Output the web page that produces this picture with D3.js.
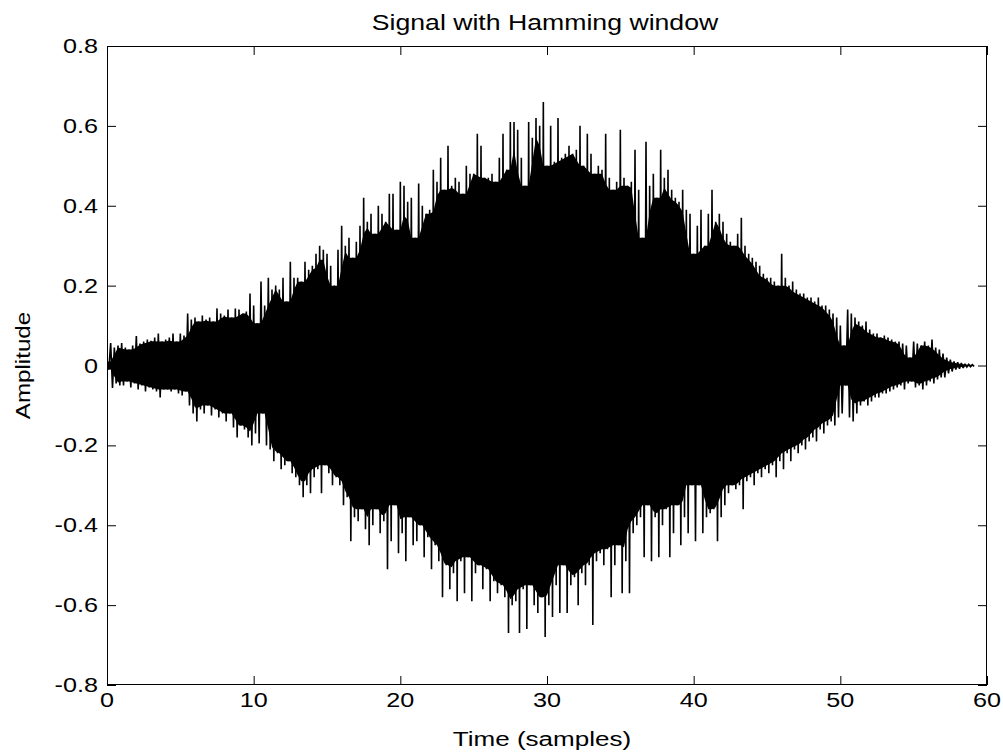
<!DOCTYPE html>
<html>
<head>
<meta charset="utf-8">
<script src="https://cdn.jsdelivr.net/npm/d3@7/dist/d3.min.js"></script>
<style>
  html, body { margin: 0; padding: 0; background: #fff; }
  svg { display: block; }
  text { font-family: "Liberation Sans", Arial, sans-serif; fill: #000; }
</style>
</head>
<body>
<svg id="chart" width="1003" height="753"></svg>
<script>
// Windowed signal: positive and negative swing of each short stretch,
// one pair every 0.25 samples from t = 0 to t = 59.
const peakStep = 0.25;
const upperPeaks = [
  0.01, 0.056, 0.045, 0.05,   0.056, 0.045, 0.04, 0.05,   0.074, 0.055, 0.06, 0.065,
  0.062, 0.07, 0.08, 0.06,    0.065, 0.07, 0.08, 0.06,    0.08, 0.075, 0.13, 0.115,
  0.12, 0.11, 0.125, 0.115,   0.12, 0.11, 0.143, 0.13,    0.125, 0.14, 0.12, 0.143,
  0.14, 0.13, 0.135, 0.18,    0.15, 0.106, 0.21, 0.15,    0.22, 0.19, 0.2, 0.19,
  0.22, 0.16, 0.26, 0.22,     0.22, 0.21, 0.26, 0.24,     0.25, 0.28, 0.3, 0.29,
  0.28, 0.25, 0.2, 0.29,      0.35, 0.3, 0.32, 0.27,      0.31, 0.35, 0.42, 0.36,
  0.38, 0.33, 0.4, 0.38,      0.36, 0.43, 0.43, 0.34,     0.46, 0.45, 0.41, 0.42,
  0.32, 0.456, 0.4, 0.38,     0.39, 0.49, 0.46, 0.52,     0.44, 0.55, 0.45, 0.47,
  0.46, 0.43, 0.5, 0.48,      0.48, 0.58, 0.55, 0.47,     0.47, 0.48, 0.46, 0.52,
  0.58, 0.49, 0.61, 0.61,     0.59, 0.52, 0.45, 0.61,     0.57, 0.62, 0.6, 0.66,
  0.5, 0.6, 0.51, 0.62,       0.52, 0.53, 0.55, 0.53,     0.54, 0.6, 0.5, 0.58,
  0.53, 0.48, 0.5, 0.49,      0.58, 0.47, 0.44, 0.46,     0.59, 0.47, 0.45, 0.46,
  0.54, 0.44, 0.32, 0.56,     0.45, 0.48, 0.42, 0.54,     0.47, 0.49, 0.44, 0.42,
  0.41, 0.44, 0.39, 0.38,     0.28, 0.35, 0.39, 0.3,      0.38, 0.44, 0.36, 0.38,
  0.36, 0.33, 0.31, 0.3,      0.33, 0.37, 0.3, 0.28,      0.27, 0.26, 0.25, 0.23,
  0.22, 0.22, 0.21, 0.2,      0.28, 0.22, 0.2, 0.21,      0.19, 0.18, 0.18, 0.17,
  0.17, 0.16, 0.17, 0.15,     0.15, 0.14, 0.13, 0.12,     0.1, 0.05, 0.14, 0.13,
  0.12, 0.11, 0.1, 0.11,      0.09, 0.08, 0.08, 0.07,     0.075, 0.07, 0.065, 0.06,
  0.06, 0.055, 0.05, 0.02,    0.06, 0.055, 0.05, 0.06,    0.05, 0.065, 0.045, 0.04,
  0.03, 0.02, 0.015, 0.01,    0.008, 0.006, 0.004, 0.003, 0.002
];
const lowerPeaks = [
  -0.01, -0.056, -0.045, -0.05,  -0.05, -0.04, -0.055, -0.045,  -0.06, -0.05, -0.065, -0.055,
  -0.06, -0.065, -0.08, -0.06,   -0.06, -0.065, -0.06, -0.07,   -0.075, -0.065, -0.1, -0.12,
  -0.14, -0.11, -0.12, -0.1,     -0.125, -0.11, -0.13, -0.12,   -0.14, -0.12, -0.155, -0.18,
  -0.15, -0.16, -0.18, -0.2,     -0.17, -0.195, -0.12, -0.2,    -0.21, -0.24, -0.22, -0.26,
  -0.25, -0.24, -0.27, -0.28,    -0.3, -0.33, -0.3, -0.32,      -0.28, -0.26, -0.32, -0.25,
  -0.27, -0.3, -0.28, -0.3,      -0.35, -0.33, -0.44, -0.38,    -0.39, -0.36, -0.41, -0.45,
  -0.4, -0.36, -0.42, -0.39,     -0.51, -0.44, -0.35, -0.47,    -0.42, -0.49, -0.38, -0.45,
  -0.44, -0.4, -0.48, -0.43,     -0.51, -0.45, -0.49, -0.58,    -0.5, -0.56, -0.52, -0.59,
  -0.49, -0.57, -0.48, -0.59,    -0.52, -0.5, -0.56, -0.51,     -0.59, -0.54, -0.57, -0.55,
  -0.58, -0.67, -0.6, -0.59,     -0.67, -0.56, -0.66, -0.55,    -0.6, -0.62, -0.58, -0.68,
  -0.6, -0.63, -0.55, -0.62,     -0.5, -0.62, -0.55, -0.53,     -0.6, -0.52, -0.55, -0.5,
  -0.65, -0.49, -0.47, -0.5,     -0.46, -0.58, -0.5, -0.45,     -0.57, -0.49, -0.57, -0.42,
  -0.4, -0.38, -0.48, -0.35,     -0.49, -0.38, -0.48, -0.4,     -0.36, -0.48, -0.42, -0.35,
  -0.45, -0.38, -0.42, -0.3,     -0.44, -0.3, -0.42, -0.38,     -0.37, -0.36, -0.44, -0.38,
  -0.35, -0.32, -0.3, -0.31,     -0.3, -0.36, -0.29, -0.28,     -0.3, -0.27, -0.28, -0.26,
  -0.27, -0.25, -0.28, -0.24,    -0.26, -0.22, -0.24, -0.21,    -0.22, -0.2, -0.21, -0.19,
  -0.18, -0.19, -0.16, -0.17,    -0.15, -0.14, -0.15, -0.13,    -0.12, -0.05, -0.13, -0.14,
  -0.12, -0.1, -0.09, -0.1,      -0.09, -0.08, -0.08, -0.07,    -0.07, -0.065, -0.06, -0.055,
  -0.05, -0.06, -0.045, -0.04,   -0.055, -0.05, -0.06, -0.05,   -0.04, -0.045, -0.035, -0.03,
  -0.03, -0.02, -0.015, -0.01,   -0.008, -0.006, -0.004, -0.003, -0.002
];

const xTicks = [0, 10, 20, 30, 40, 50, 60];
const yTicks = [-0.8, -0.6, -0.4, -0.2, 0, 0.2, 0.4, 0.6, 0.8];
const titleText = "Signal with Hamming window";
const xLabelText = "Time (samples)";
const yLabelText = "Amplitude";

// Layout
const W = 1003, H = 753;
const plot = { left: 107, right: 987, top: 46, bottom: 685 };
const fontSize = 21;
const stretch = 1.2;   // horizontal widening of the lettering
const tickLen = 9;

const svg = d3.select("#chart");
svg.append("rect").attr("width", W).attr("height", H).attr("fill", "#fff");

const x = d3.scaleLinear().domain([0, 60]).range([plot.left, plot.right]);
const y = d3.scaleLinear().domain([-0.8, 0.8]).range([plot.bottom, plot.top]);

// Interleave the positive and negative swings into one sample sequence
const samples = [];
upperPeaks.forEach((v, i) => {
  samples.push({ t: i * peakStep, v: v });
  if (i < lowerPeaks.length) samples.push({ t: i * peakStep + peakStep / 2, v: lowerPeaks[i] });
});

// Dense core of the oscillation, which the trace fills solidly at this scale:
// blend of the smallest swing within one and within two neighbouring stretches
const minIn = (arr, i, r, f) => f(arr.slice(Math.max(0, i - r), i + r + 1));
const core = upperPeaks.map((v, i) => ({
  t: i * peakStep,
  top: (minIn(upperPeaks, i, 1, d3.min) + minIn(upperPeaks, i, 2, d3.min)) / 2,
  bottom: (minIn(lowerPeaks, i, 1, d3.max) + minIn(lowerPeaks, i, 2, d3.max)) / 2
}));

const clipId = "plot-clip";
svg.append("clipPath").attr("id", clipId)
  .append("rect")
  .attr("x", plot.left).attr("y", plot.top)
  .attr("width", plot.right - plot.left).attr("height", plot.bottom - plot.top);

const coreArea = d3.area()
  .x(d => x(d.t))
  .y0(d => y(d.bottom))
  .y1(d => y(d.top));
svg.append("path")
  .datum(core)
  .attr("clip-path", `url(#${clipId})`)
  .attr("fill", "#000")
  .attr("d", coreArea);

const line = d3.line().x(d => x(d.t)).y(d => y(d.v));
svg.append("path")
  .datum(samples)
  .attr("clip-path", `url(#${clipId})`)
  .attr("fill", "none")
  .attr("stroke", "#000")
  .attr("stroke-width", 1.6)
  .attr("stroke-linejoin", "miter")
  .attr("stroke-miterlimit", 2)
  .attr("d", line);

// Axes: inward ticks on all four sides, box outline
const axisStyle = g => {
  g.selectAll(".domain").remove();
  g.selectAll(".tick line").attr("stroke", "#000").attr("stroke-width", 1);
  g.selectAll(".tick text").remove();
};
svg.append("g").attr("transform", `translate(0,${plot.bottom})`)
  .call(d3.axisTop(x).tickValues(xTicks).tickSize(tickLen)).call(axisStyle);
svg.append("g").attr("transform", `translate(0,${plot.top})`)
  .call(d3.axisBottom(x).tickValues(xTicks).tickSize(tickLen)).call(axisStyle);
svg.append("g").attr("transform", `translate(${plot.left},0)`)
  .call(d3.axisRight(y).tickValues(yTicks).tickSize(tickLen)).call(axisStyle);
svg.append("g").attr("transform", `translate(${plot.right},0)`)
  .call(d3.axisLeft(y).tickValues(yTicks).tickSize(tickLen)).call(axisStyle);

svg.append("rect")
  .attr("x", plot.left + 0.5).attr("y", plot.top + 0.5)
  .attr("width", plot.right - plot.left - 1).attr("height", plot.bottom - plot.top - 1)
  .attr("fill", "none").attr("stroke", "#000").attr("stroke-width", 1);

// Widened text helper
function label(px, py, str, anchor, rotate, size, sx) {
  const rot = rotate ? ` rotate(${rotate})` : "";
  svg.append("text")
    .attr("transform", `translate(${px},${py})${rot} scale(${sx || stretch},1)`)
    .attr("text-anchor", anchor)
    .attr("font-size", size || fontSize)
    .text(str);
}

const fmtX = v => String(v);
const fmtY = v => (v === 0 ? "0" : v.toFixed(1));   // plain ASCII hyphen for negatives
xTicks.forEach(v => label(x(v), plot.bottom + 22, fmtX(v), "middle"));
yTicks.forEach(v => label(plot.left - 9, y(v) + 7, fmtY(v), "end"));

label(545, 30, titleText, "middle", 0, 21.5, 1.24);
label(542, 746, xLabelText, "middle", 0, 21, 1.24);
label(30, (plot.top + plot.bottom) / 2, yLabelText, "middle", -90, 21, 1.15);
</script>
</body>
</html>
